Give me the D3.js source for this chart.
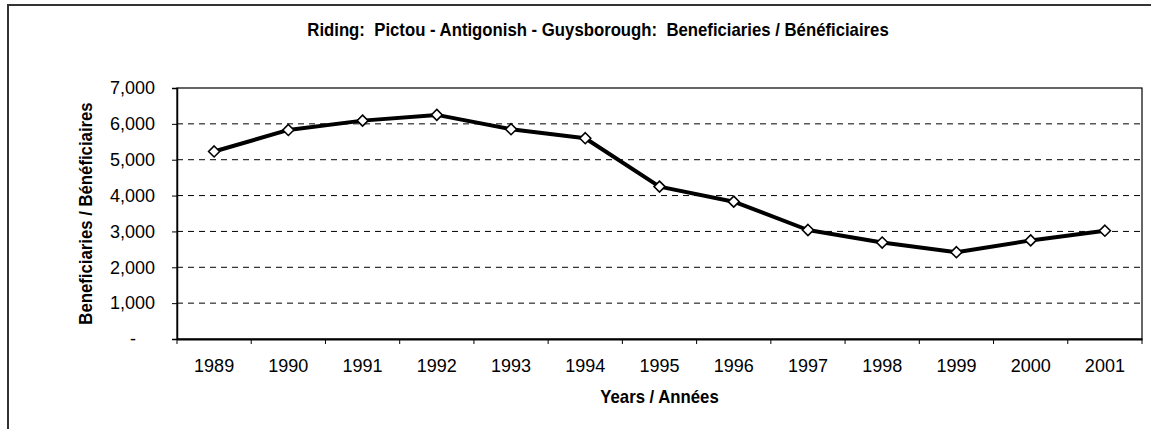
<!DOCTYPE html>
<html>
<head>
<meta charset="utf-8">
<script src="https://cdn.jsdelivr.net/npm/d3@7"></script>
<style>
  body { margin: 0; background: #fff; }
  svg { display: block; }
</style>
</head>
<body>
<div id="container"></div>
<script>
// data
const years = ["1989", "1990", "1991", "1992", "1993", "1994", "1995", "1996", "1997", "1998", "1999", "2000", "2001"];
const beneficiaries = [5230, 5830, 6090, 6250, 5850, 5600, 4250, 3830, 3040, 2690, 2420, 2750, 3020];
const yTicks = [0, 1000, 2000, 3000, 4000, 5000, 6000, 7000];

const width = 1151,
  height = 429,
  margin = { top: 88, bottom: 90, left: 177, right: 9 };

const sansFont = "'Liberation Sans', Arial, Helvetica, sans-serif";
const narrowScale = 0.93; // squeeze Liberation Sans Bold to look condensed

const svg = d3.select("#container")
  .append("svg")
  .attr("width", width)
  .attr("height", height);

// outer chart frame (runs off the right / bottom of the picture)
svg.append("rect")
  .attr("x", 8)
  .attr("y", 5)
  .attr("width", 1200)
  .attr("height", 500)
  .attr("fill", "none")
  .attr("stroke", "#333")
  .attr("stroke-width", 2);

const x = d3.scaleBand()
  .domain(years)
  .range([margin.left, width - margin.right]);

const y = d3.scaleLinear()
  .domain([0, 7000])
  .range([height - margin.bottom, margin.top]);

const x0 = margin.left, x1 = width - margin.right;

// dashed gridlines
svg.selectAll("line.grid")
  .data(yTicks.filter(d => d > 0 && d < 7000))
  .join("line")
  .attr("class", "grid")
  .attr("x1", x0)
  .attr("x2", x1)
  .attr("y1", d => y(d))
  .attr("y2", d => y(d))
  .attr("stroke", "#000")
  .attr("stroke-width", 1)
  .attr("stroke-dasharray", "6,5");

// plot border
svg.append("rect")
  .attr("x", x0)
  .attr("y", y(7000))
  .attr("width", x1 - x0)
  .attr("height", y(0) - y(7000))
  .attr("fill", "none")
  .attr("stroke", "#000")
  .attr("stroke-width", 1.2);

// y axis
const yAxis = svg.append("g")
  .attr("transform", `translate(${x0},0)`)
  .call(d3.axisLeft(y)
    .tickValues(yTicks)
    .tickSize(5)
    .tickPadding(17)
    .tickFormat(d => d === 0 ? "-" : d3.format(",")(d)));
yAxis.attr("font-family", null).attr("font-size", null);
yAxis.select(".domain").attr("stroke", "#000").attr("stroke-width", 1.5);
yAxis.selectAll(".tick line").attr("stroke", "#000");
yAxis.selectAll(".tick text")
  .style("font-family", sansFont)
  .style("font-size", "18px")
  .attr("fill", "#000");
yAxis.selectAll(".tick text")
  .filter(d => d === 0)
  .attr("x", -41);

// x axis: labels centred in each band, ticks on band edges
const xAxis = svg.append("g")
  .attr("transform", `translate(0,${y(0)})`)
  .call(d3.axisBottom(x).tickSize(0).tickPadding(20));
xAxis.attr("font-family", null).attr("font-size", null);
xAxis.select(".domain").attr("stroke", "#000").attr("stroke-width", 2);
xAxis.selectAll(".tick text")
  .style("font-family", sansFont)
  .style("font-size", "18px")
  .attr("fill", "#000");

svg.selectAll("line.xtick")
  .data(years.map(d => x(d)).concat([x1]))
  .join("line")
  .attr("class", "xtick")
  .attr("x1", d => d)
  .attr("x2", d => d)
  .attr("y1", y(0))
  .attr("y2", y(0) + 5)
  .attr("stroke", "#000");

// series line
const line = d3.line()
  .x((d, i) => x(years[i]) + x.bandwidth() / 2)
  .y(d => y(d));

svg.append("path")
  .datum(beneficiaries)
  .attr("d", line)
  .attr("fill", "none")
  .attr("stroke", "#000")
  .attr("stroke-width", 4)
  .attr("stroke-linejoin", "round");

// diamond markers
svg.selectAll("path.marker")
  .data(beneficiaries)
  .join("path")
  .attr("class", "marker")
  .attr("transform", (d, i) => `translate(${x(years[i]) + x.bandwidth() / 2},${y(d)})`)
  .attr("d", "M0,-5.5 L5.5,0 L0,5.5 L-5.5,0 Z")
  .attr("fill", "#fff")
  .attr("stroke", "#000")
  .attr("stroke-width", 1.6);

// titles (bold, horizontally squeezed)
function narrowText(tx, ty, rot, size, str) {
  svg.append("g")
    .attr("transform", `translate(${tx},${ty}) rotate(${rot}) scale(${narrowScale},1)`)
    .append("text")
    .attr("text-anchor", "middle")
    .attr("xml:space", "preserve")
    .style("white-space", "pre")
    .style("font-family", sansFont)
    .style("font-weight", "bold")
    .style("font-size", size + "px")
    .attr("fill", "#000")
    .text(str);
}

narrowText(598, 36, 0, 18, "Riding:  Pictou - Antigonish - Guysborough:  Beneficiaries / Bénéficiaires");
narrowText((x0 + x1) / 2, 403, 0, 18, "Years / Années");
narrowText(92, (y(0) + y(7000)) / 2, -90, 18, "Beneficiaries / Bénéficiaires");
</script>
</body>
</html>
